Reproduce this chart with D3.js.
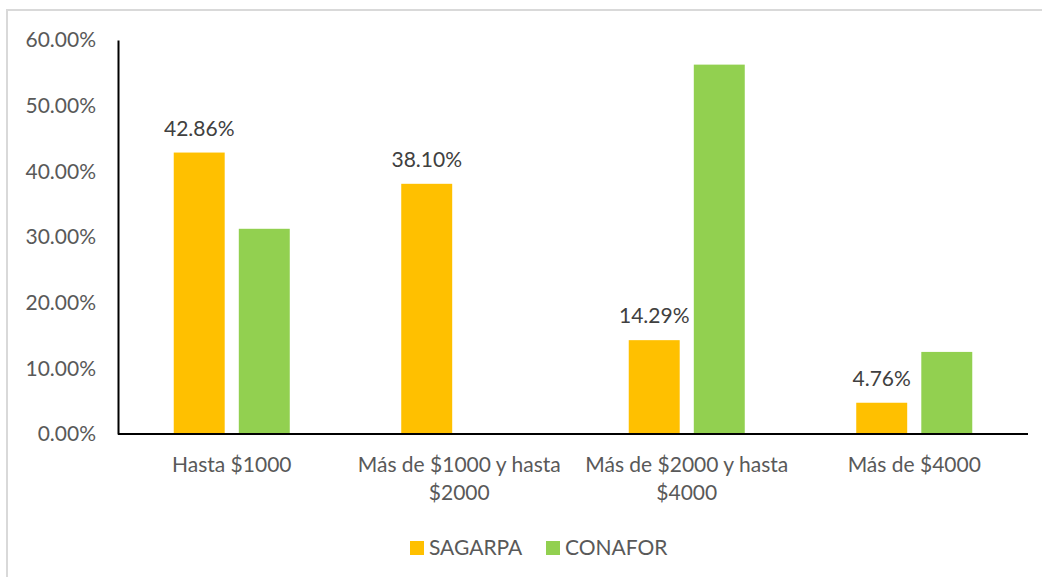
<!DOCTYPE html>
<html>
<head>
<meta charset="utf-8">
<script src="https://cdn.jsdelivr.net/npm/d3@7"></script>
<style>
  body { margin: 0; background: #fff; }
  text { font-family: Lato, "Open Sans", sans-serif; }
</style>
</head>
<body>
<div id="chart"></div>
<script>
// Data
const categories = [["Hasta $1000"], ["Más de $1000 y hasta", "$2000"], ["Más de $2000 y hasta", "$4000"], ["Más de $4000"]];
const seriesNames = ["SAGARPA", "CONAFOR"];
const sagarpa = [42.86, 38.10, 14.29, 4.76];
const conafor = [31.25, 0, 56.25, 12.5];
const yTicks = [0, 10, 20, 30, 40, 50, 60];
const colors = ["#FFC000", "#92D050"];

const W = 1042, H = 577;
const margin = {top: 40, right: 14, bottom: 143, left: 118};
const width = W - margin.left - margin.right,
      height = H - margin.top - margin.bottom;
const fs = 21;

const svg = d3.select("#chart").append("svg")
  .attr("width", W).attr("height", H);

// chart frame (cropped on the right and bottom)
svg.append("rect")
  .attr("x", 7).attr("y", 10)
  .attr("width", W + 10).attr("height", H + 10)
  .attr("fill", "none").attr("stroke", "#d9d9d9").attr("stroke-width", 2);

const g = svg.append("g").attr("transform", `translate(${margin.left},${margin.top})`);

const x = d3.scaleBand().domain(d3.range(categories.length)).range([0, width]);
const y = d3.scaleLinear().domain([0, 60]).range([height, 0]);
const barW = x.bandwidth() * 0.224, gap = x.bandwidth() * 0.062;

// y axis labels
const yAxis = g.append("g")
  .call(d3.axisLeft(y).tickValues(yTicks).tickFormat(d => d.toFixed(2) + "%").tickSize(0).tickPadding(22));
yAxis.select(".domain").attr("stroke", "#000").attr("stroke-width", 2);
yAxis.selectAll("text").attr("font-size", fs).attr("fill", "#595959")
  .style("font-family", "Lato, 'Open Sans', sans-serif");

const series = [sagarpa, conafor];
series.forEach((vals, si) => {
  g.append("g").selectAll("rect").data(vals).join("rect")
    .attr("x", (d, i) => x(i) + x.bandwidth() / 2 + (si === 0 ? -gap / 2 - barW : gap / 2))
    .attr("y", d => y(d))
    .attr("width", barW)
    .attr("height", d => height - y(d))
    .attr("fill", colors[si]);
});

// data labels for SAGARPA
g.append("g").selectAll("text").data(sagarpa).join("text")
  .attr("x", (d, i) => x(i) + x.bandwidth() / 2 - gap / 2 - barW / 2)
  .attr("y", d => y(d) - 17)
  .attr("text-anchor", "middle")
  .attr("font-size", fs).attr("fill", "#404040")
  .text(d => d.toFixed(2) + "%");

// x axis line
g.append("line")
  .attr("x1", 0).attr("x2", width)
  .attr("y1", height).attr("y2", height)
  .attr("stroke", "#000").attr("stroke-width", 2);

// category labels
const catG = g.append("g").selectAll("text").data(categories).join("text")
  .attr("x", (d, i) => x(i) + x.bandwidth() / 2)
  .attr("y", height + 38)
  .attr("text-anchor", "middle")
  .attr("font-size", fs).attr("fill", "#595959");
catG.selectAll("tspan").data(d => d).join("tspan")
  .attr("x", function() { return d3.select(this.parentNode).attr("x"); })
  .attr("dy", (d, i) => i === 0 ? 0 : 28)
  .text(d => d);

// legend
const legend = svg.append("g").attr("transform", "translate(410,541)");
const legX = [0, 136];
seriesNames.forEach((name, i) => {
  legend.append("rect").attr("x", legX[i]).attr("y", 0)
    .attr("width", 14).attr("height", 14).attr("fill", colors[i]);
  legend.append("text").attr("x", legX[i] + 19).attr("y", 14)
    .attr("font-size", fs).attr("fill", "#595959").text(name);
});
</script>
</body>
</html>
